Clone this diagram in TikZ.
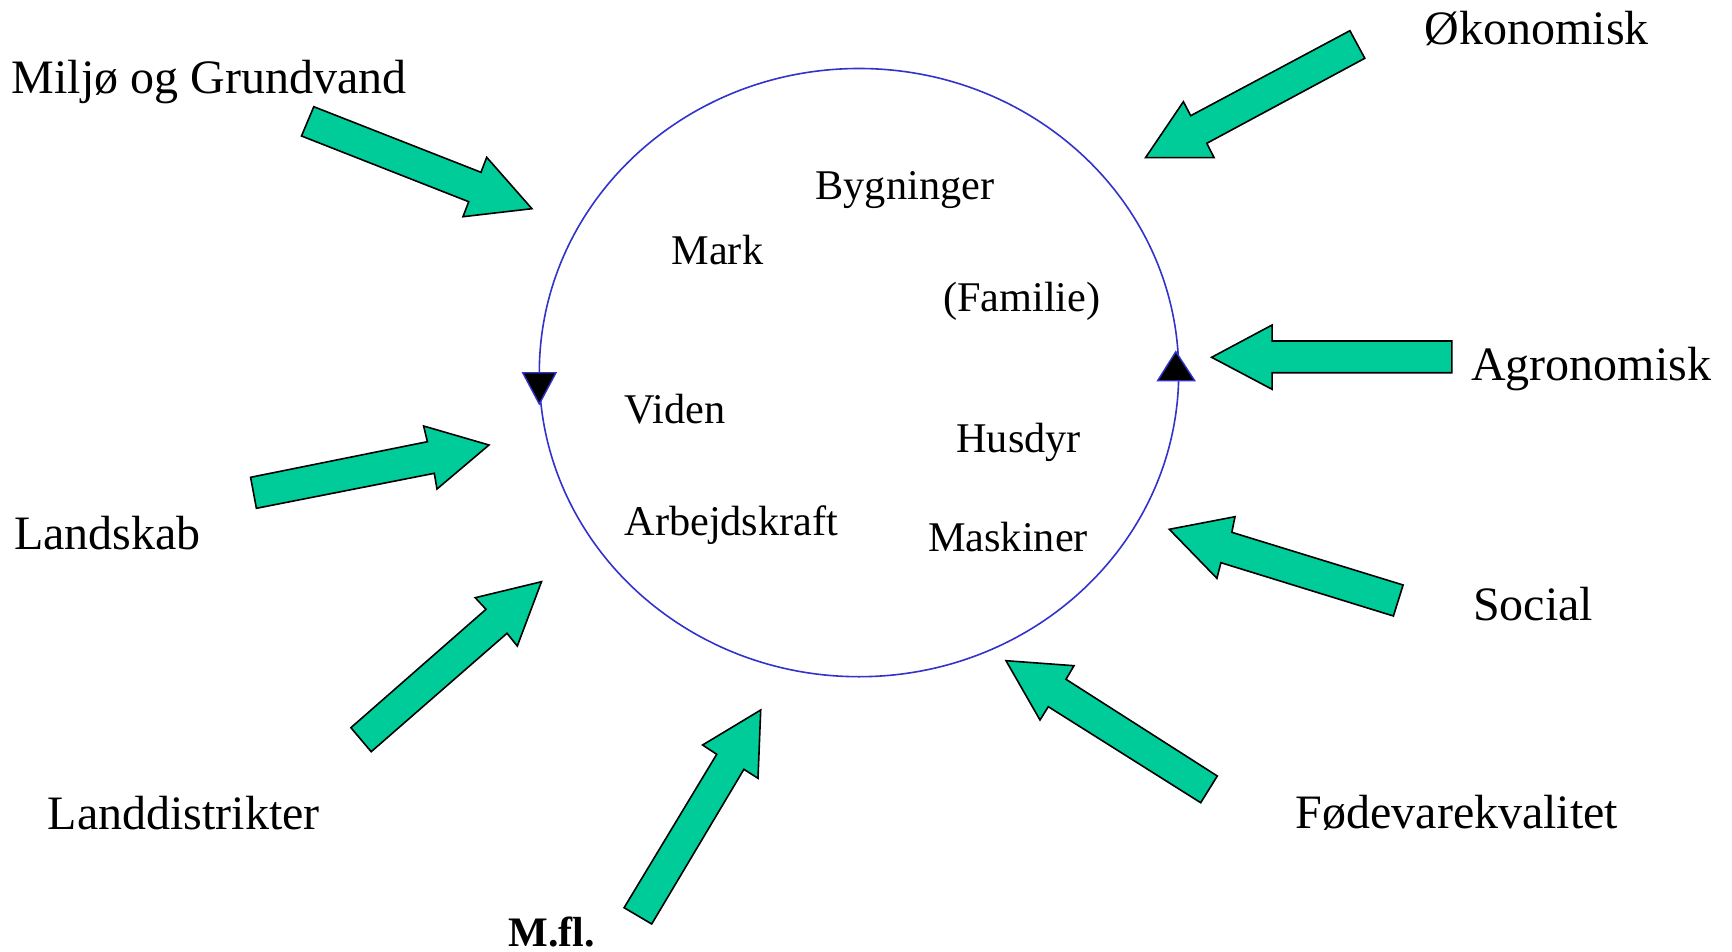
\documentclass[tikz,border=0pt]{standalone}
\usepackage{fontspec}
\setmainfont{Liberation Serif}
\definecolor{arrowgreen}{RGB}{0,204,153}
\definecolor{ringblue}{RGB}{51,51,204}
\begin{document}
\begin{tikzpicture}[x=1pt,y=-1pt,
  outer/.style={anchor=base west,inner sep=0pt,font=\fontsize{48}{58}\selectfont},
  inner/.style={anchor=base west,inner sep=0pt,font=\fontsize{42.3}{50}\selectfont},
  blockarrow/.style={fill=arrowgreen,draw=black,line width=1.6pt,line join=miter},
  ring/.style={draw=ringblue,line width=1.6pt},
  marker/.style={fill=black,draw=ringblue,line width=1.4pt,line join=miter}]
\useasboundingbox[fill=white] (0,0) rectangle (1732,952);
% ring
\draw[ring] (859,372.6) ellipse [x radius=319.7pt, y radius=304.1pt];
\draw[marker] (522.7,372.7) -- (556,372.7) -- (539.3,404) -- cycle;
\draw[marker] (1157.6,380.7) -- (1194.7,380.7) -- (1175.8,351.7) -- cycle;
% outer labels
\node[outer] (miljo) at (11.5,93.3) {Miljø og Grundvand};
\node[outer] (okon) at (1424.5,45) {Økonomisk};
\node[outer] (agro) at (1470.8,380.7) {Agronomisk};
\node[outer] (land) at (13.8,549) {Landskab};
\node[outer] (social) at (1472.8,620.7) {Social};
\node[outer] (fode) at (1295.5,828.3) {Fødevarekvalitet};
\node[outer] (ldist) at (47.7,829.3) {Landdistrikter};
\node[anchor=base west,inner sep=0pt,font=\bfseries\fontsize{42}{50}\selectfont] (mfl) at (508.2,946) {M.fl.};
% inner labels
\node[inner] (byg) at (815.4,200) {Bygninger};
\node[inner] (mark) at (671.4,264) {Mark};
\node[inner] (fam) at (942.9,311.7) {(Familie)};
\node[inner] (viden) at (624.3,423.3) {Viden};
\node[inner] (husdyr) at (956.1,452.3) {Husdyr};
\node[inner] (arb) at (624.3,535) {Arbejdskraft};
\node[inner] (mask) at (927.9,551.7) {Maskiner};
% block arrows
\draw[blockarrow] (313.8,106.7) -- (481,172.3) -- (486.7,157.3) -- (531.9,208.7) -- (463,216.7) -- (468.7,201.7) -- (301.5,136) -- cycle;
\draw[blockarrow] (1349.9,30.7) -- (1190.7,115.7) -- (1183.4,101.7) -- (1145.5,157.7) -- (1214.1,157.7) -- (1206.8,143.3) -- (1364.8,58.3) -- cycle;
\draw[blockarrow] (1451.9,341) -- (1272.1,341) -- (1272.1,325) -- (1211.6,357.3) -- (1272.1,389.3) -- (1272.1,372.7) -- (1451.9,372.7) -- cycle;
\draw[blockarrow] (1403.1,585) -- (1231.8,532.3) -- (1235,516.7) -- (1169.3,529.3) -- (1216.9,578.3) -- (1220.9,562.7) -- (1393.4,616) -- cycle;
\draw[blockarrow] (1217.3,776) -- (1066,679.3) -- (1074,665.7) -- (1006,660.7) -- (1040,720) -- (1048.3,706.7) -- (1200.7,802.7) -- cycle;
\draw[blockarrow] (250.6,477.3) -- (427.4,441.7) -- (423.6,426) -- (489,445) -- (437,489) -- (434.3,473.3) -- (256.4,508.3) -- cycle;
\draw[blockarrow] (350.9,727.7) -- (486,609.3) -- (475.2,597.7) -- (541.5,581.7) -- (517.3,646) -- (507,633.3) -- (371.2,751.7) -- cycle;
\draw[blockarrow] (624.1,907.7) -- (716.7,754.3) -- (702.6,745) -- (760.7,710) -- (758,778.3) -- (743.9,769.3) -- (651.7,924) -- cycle;
\end{tikzpicture}
\end{document}
